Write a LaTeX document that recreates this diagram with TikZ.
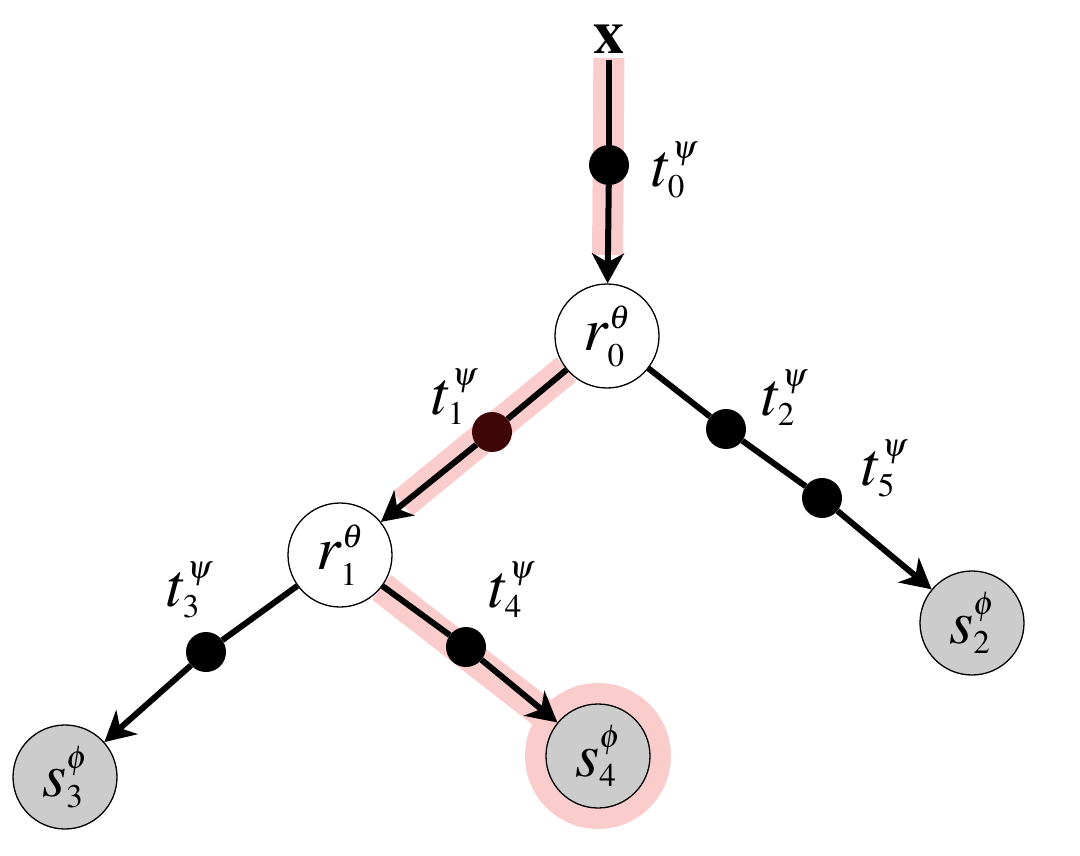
\documentclass[tikz,border=0pt]{standalone}
\usepackage{mathptmx}
\DeclareMathSizes{62}{62}{33}{24}
\usetikzlibrary{arrows.meta}
\definecolor{hl}{RGB}{250,204,204}
\definecolor{sgray}{RGB}{204,204,204}
\definecolor{dred}{RGB}{62,6,6}
\pgfdeclarelayer{bg}
\pgfsetlayers{bg,main}
\begin{document}
\begin{tikzpicture}[x=1pt,y=-1pt,
  every node/.style={font=\fontsize{62}{70}\selectfont},
  txt/.style={inner sep=2pt},
  rnode/.style={circle,draw=black,line width=1.3pt,fill=white,minimum size=104pt,inner sep=0pt},
  snode/.style={circle,draw=black,line width=1.3pt,fill=sgray,minimum size=104pt,inner sep=0pt},
  ringnode/.style={circle,fill=hl,minimum size=146pt,inner sep=0pt},
  dotnode/.style={circle,fill=black,minimum size=40pt,inner sep=0pt},
  plain/.style={line width=6pt},
  edge/.style={line width=6pt,-{Stealth[length=30pt,width=32pt,inset=9pt]}},
  band/.style={line width=31pt,draw=hl,line cap=butt}]
\useasboundingbox (0,0) rectangle (1080,856);
% nodes
\node[txt] (x) at (609,39) {$\mathbf{x}$};
\node[rnode] (r0) at (607,336) {$r_0^{\theta}$};
\node[rnode] (r1) at (340,555) {$r_1^{\theta}$};
\node[snode] (s2) at (972,623) {$s_2^{\phi}$};
\node[snode] (s3) at (65,777) {$s_3^{\phi}$};
\begin{pgfonlayer}{bg}
\node[ringnode] (ring4) at (598,756) {};
\end{pgfonlayer}
\node[snode] (s4) at (598,756) {$s_4^{\phi}$};
% dots
\node[dotnode] (d0) at (609,165) {};
\node[dotnode,fill=dred] (d1) at (492,432) {};
\node[dotnode] (d2) at (726,429) {};
\node[dotnode] (d5) at (822,498) {};
\node[dotnode] (d3) at (206,652) {};
\node[dotnode] (d4) at (466,647) {};
% labels
\node[txt] (l0) at (675,170) {$t_0^{\psi}$};
\node[txt] (l1) at (455,397) {$t_1^{\psi}$};
\node[txt] (l2) at (785,398) {$t_2^{\psi}$};
\node[txt] (l5) at (885,469) {$t_5^{\psi}$};
\node[txt] (l3) at (190,590) {$t_3^{\psi}$};
\node[txt] (l4) at (512,590) {$t_4^{\psi}$};
% highlight bands
\begin{pgfonlayer}{bg}
\draw[band,shorten <=19pt,shorten >=81pt] (x.center) -- (r0.center);
\draw[band,shorten >=28pt] (r0) -- (r1);
\draw[band,shorten >=18pt] (r1) -- (s4);
\end{pgfonlayer}
% edges
\draw[plain,shorten <=4pt] (x) -- (d0);
\draw[edge] (d0) -- (r0);
\draw[edge] (r0) -- (d1) -- (r1);
\draw[edge] (r0) -- (d2) -- (d5) -- (s2);
\draw[edge] (r1) -- (d3) -- (s3);
\draw[edge] (r1) -- (d4) -- (s4);
\end{tikzpicture}
\end{document}
